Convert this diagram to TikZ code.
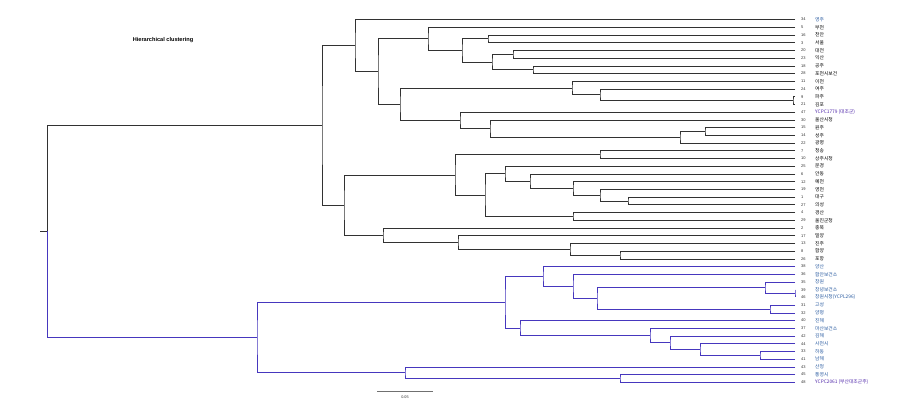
\documentclass[tikz,border=0pt]{standalone}
\usepackage{fontspec}
\setmainfont{Liberation Sans}
\newfontfamily\krfont{Noto Sans CJK KR}
\usetikzlibrary{calc}
\definecolor{blk}{RGB}{50,50,50}
\definecolor{blu}{RGB}{70,55,190}
\definecolor{labblue}{RGB}{40,90,160}
\definecolor{labpur}{RGB}{80,40,170}
\tikzset{
  blkline/.style={draw=blk,line width=0.6pt},
  bluline/.style={draw=blu,line width=0.6pt},
  numlab/.style={anchor=west,inner sep=0pt,font=\fontsize{4}{4}\selectfont,text=blk},
  namelab/.style={anchor=west,inner sep=0pt,font=\krfont\fontsize{4.8}{5}\selectfont},
}
\newcommand\leaf[4]{%
  \coordinate (L#2) at (795,{19.5+7.72*#1});
  \node[numlab] (N#2) at (801,{19.5+7.72*#1}) {#2};
  \node[namelab,text=#4] (T#2) at (815,{19.5+7.72*#1}) {#3};}
\newcommand\jn[5][blkline]{%
  \path let \p1=(#4), \p2=(#5) in coordinate (#2) at (#3pt,{0.5*(\y1+\y2)});
  \draw[#1] (#4) -| (#2) |- (#5);}
\begin{document}
\begin{tikzpicture}[x=1pt,y=-1pt]
\useasboundingbox[fill=white] (0,0) rectangle (922,403);
\node[font=\bfseries\fontsize{5.6}{6}\selectfont,anchor=center] (title) at (163,40) {Hierarchical clustering};
% leaves
\leaf{0}{34}{영주}{labblue}
\leaf{1}{5}{부천}{black}
\leaf{2}{16}{천안}{black}
\leaf{3}{3}{서울}{black}
\leaf{4}{20}{대전}{black}
\leaf{5}{23}{익산}{black}
\leaf{6}{18}{공주}{black}
\leaf{7}{28}{포천시보건}{black}
\leaf{8}{11}{이천}{black}
\leaf{9}{24}{여주}{black}
\leaf{10}{9}{파주}{black}
\leaf{11}{21}{김포}{black}
\leaf{12}{47}{YCPC1779 (대조군)}{labpur}
\leaf{13}{30}{울산시청}{black}
\leaf{14}{15}{원주}{black}
\leaf{15}{14}{성주}{black}
\leaf{16}{22}{광명}{black}
\leaf{17}{7}{청송}{black}
\leaf{18}{10}{상주시청}{black}
\leaf{19}{25}{문경}{black}
\leaf{20}{6}{안동}{black}
\leaf{21}{12}{예천}{black}
\leaf{22}{19}{영천}{black}
\leaf{23}{1}{대구}{black}
\leaf{24}{27}{의성}{black}
\leaf{25}{4}{경산}{black}
\leaf{26}{29}{울진군청}{black}
\leaf{27}{2}{충북}{black}
\leaf{28}{17}{밀양}{black}
\leaf{29}{13}{진주}{black}
\leaf{30}{8}{함양}{black}
\leaf{31}{26}{포항}{black}
\leaf{32}{38}{양산}{labblue}
\leaf{33}{36}{함안보건소}{labblue}
\leaf{34}{35}{창원}{labblue}
\leaf{35}{39}{창녕보건소}{labblue}
\leaf{36}{46}{창원시청(YCPL296)}{labblue}
\leaf{37}{31}{고성}{labblue}
\leaf{38}{32}{양평}{labblue}
\leaf{39}{40}{진해}{labblue}
\leaf{40}{37}{마산보건소}{labblue}
\leaf{41}{42}{김해}{labblue}
\leaf{42}{44}{사천시}{labblue}
\leaf{43}{33}{하동}{labblue}
\leaf{44}{41}{남해}{labblue}
\leaf{45}{43}{산청}{labblue}
\leaf{46}{45}{통영시}{labblue}
\leaf{47}{48}{YCPC2061 (부산대조군주)}{labpur}
% black upper
\jn{a1}{488}{L16}{L3}
\jn{a2}{513}{L20}{L23}
\jn{a3}{533}{L18}{L28}
\jn{a4}{492}{a2}{a3}
\jn{a5}{462}{a1}{a4}
\jn{a6}{428}{L5}{a5}
\jn{b1}{793}{L9}{L21}
\jn{b2}{600}{L24}{b1}
\jn{b3}{572}{L11}{b2}
\jn{c1}{705}{L15}{L14}
\jn{c2}{680}{c1}{L22}
\jn{c3}{490}{L30}{c2}
\jn{c4}{460}{L47}{c3}
\jn{d1}{400}{b3}{c4}
\jn{d2}{378}{a6}{d1}
\jn{d3}{355}{L34}{d2}
% black lower
\jn{e1}{628}{L1}{L27}
\jn{e2}{600}{L19}{e1}
\jn{e3}{573}{L12}{e2}
\jn{e4}{530}{L6}{e3}
\jn{e5}{505}{L25}{e4}
\jn{e6}{573}{L4}{L29}
\jn{e7}{485}{e5}{e6}
\jn{e8}{600}{L7}{L10}
\jn{e9}{455}{e8}{e7}
\jn{f1}{620}{L8}{L26}
\jn{f2}{570}{L13}{f1}
\jn{f3}{458}{L17}{f2}
\jn{f4}{383}{L2}{f3}
\jn{g1}{344}{e9}{f4}
\jn{g2}{322}{d3}{g1}
% blue
\jn[bluline]{h1}{795}{L39}{L46}
\jn[bluline]{h2}{765}{L35}{h1}
\jn[bluline]{h3}{770}{L31}{L32}
\jn[bluline]{h4}{597}{h2}{h3}
\jn[bluline]{h5}{573}{L36}{h4}
\jn[bluline]{h6}{543}{L38}{h5}
\jn[bluline]{i1}{760}{L33}{L41}
\jn[bluline]{i2}{700}{L44}{i1}
\jn[bluline]{i3}{670}{L42}{i2}
\jn[bluline]{i4}{650}{L37}{i3}
\jn[bluline]{i5}{520}{L40}{i4}
\jn[bluline]{h7}{505}{h6}{i5}
\jn[bluline]{j1}{620}{L45}{L48}
\jn[bluline]{j2}{405}{L43}{j1}
\jn[bluline]{k}{257}{h7}{j2}
% root
\path let \p1=(g2), \p2=(k) in coordinate (root) at (47pt,{0.5*(\y1+\y2)});
\coordinate (stub) at ($(root)+(-7,0)$);
\draw[blkline] (g2) -| (root) -- (stub);
\draw[bluline] (root) |- (k);
% scale bar
\coordinate (sb1) at (377,391);
\coordinate (sb2) at (433,391);
\draw[draw=blk!70,line width=0.5pt] (sb1) -- (sb2);
\node[font=\fontsize{3.8}{4}\selectfont,text=blk] (sblab) at (405,397) {0.05};
\end{tikzpicture}
\end{document}
